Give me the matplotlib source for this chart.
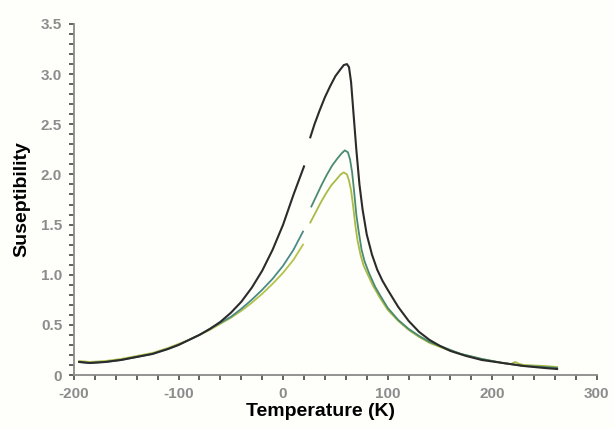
"""Susceptibility vs temperature curves (three samples)."""

import matplotlib

matplotlib.use("Agg")
import matplotlib.pyplot as plt
from matplotlib.ticker import MultipleLocator

plt.rcParams["font.family"] = ["Liberation Sans", "DejaVu Sans"]
plt.rcParams["axes.unicode_minus"] = False

# black sample: measured in two pieces (gap near 20-26 K)
black_lo_t = [-195, -185, -170, -155, -140, -125, -110, -100, -90, -80, -70, -60, -50,
              -40, -30, -20, -10, 0, 10, 20]
black_lo_chi = [0.13, 0.12, 0.13, 0.15, 0.18, 0.21, 0.26, 0.30, 0.35, 0.40, 0.46, 0.53, 0.62,
                0.73, 0.87, 1.04, 1.25, 1.50, 1.80, 2.08]
black_hi_t = [26, 30, 35, 40, 45, 50, 55, 58, 61, 63, 65, 67, 70, 73, 76, 80, 85, 90, 95,
              100, 110, 120, 130, 140, 150, 160, 175, 190, 210, 230, 250, 262]
black_hi_chi = [2.37, 2.50, 2.64, 2.77, 2.88, 2.98, 3.05, 3.09, 3.10, 3.07, 2.92, 2.65, 2.25,
                1.90, 1.65, 1.40, 1.20, 1.05, 0.94, 0.85, 0.68, 0.54, 0.43, 0.35, 0.29, 0.24,
                0.19, 0.15, 0.12, 0.09, 0.07, 0.06]

# teal sample
teal_lo_t = [-195, -185, -170, -155, -140, -125, -110, -100, -90, -80, -70, -60, -50,
             -40, -30, -20, -10, 0, 10, 19]
teal_lo_chi = [0.13, 0.12, 0.13, 0.15, 0.18, 0.21, 0.26, 0.30, 0.35, 0.40, 0.46, 0.52, 0.58,
               0.66, 0.75, 0.85, 0.96, 1.09, 1.25, 1.43]
teal_hi_t = [27, 32, 37, 42, 47, 52, 56, 59, 62, 64, 66, 68, 70, 72, 75, 78, 82, 88, 93,
             100, 110, 120, 130, 140, 155, 170, 190, 210, 230, 250, 262]
teal_hi_chi = [1.68, 1.79, 1.90, 2.00, 2.09, 2.16, 2.21, 2.24, 2.22, 2.15, 2.02, 1.82, 1.60,
               1.45, 1.25, 1.13, 1.02, 0.88, 0.79, 0.67, 0.55, 0.46, 0.39, 0.33, 0.27, 0.21,
               0.16, 0.12, 0.09, 0.08, 0.07]

# yellow-green sample
yellow_lo_t = [-195, -185, -170, -155, -140, -125, -110, -100, -90, -80, -70, -60, -50,
               -40, -30, -20, -10, 0, 10, 19]
yellow_lo_chi = [0.14, 0.13, 0.14, 0.16, 0.19, 0.22, 0.27, 0.31, 0.35, 0.40, 0.45, 0.51, 0.57,
                 0.64, 0.72, 0.81, 0.91, 1.02, 1.15, 1.30]
yellow_hi_t = [26, 31, 36, 41, 46, 51, 55, 58, 61, 63, 65, 67, 69, 71, 74, 77, 81, 86, 92,
               100, 110, 120, 130, 140, 155, 170, 190, 210, 218, 222, 226, 230, 250, 262]
yellow_hi_chi = [1.52, 1.62, 1.72, 1.81, 1.89, 1.95, 2.00, 2.02, 2.00, 1.94, 1.84, 1.68, 1.50,
                 1.35, 1.20, 1.09, 1.00, 0.89, 0.78, 0.65, 0.54, 0.45, 0.38, 0.32, 0.26, 0.21,
                 0.16, 0.12, 0.11, 0.13, 0.11, 0.10, 0.09, 0.08]

fig = plt.figure(figsize=(6.14, 4.28), dpi=100, facecolor="#fefefb")
ax = fig.add_axes([0.1205, 0.1238, 0.8515, 0.8202], facecolor="#fefefb")

ax.plot(yellow_lo_t, yellow_lo_chi, color="#b5c24a", lw=1.3)
ax.plot(yellow_hi_t, yellow_hi_chi, color="#a9bb45", lw=1.3)
ax.plot(teal_lo_t, teal_lo_chi, color="#4a8a86", lw=1.3)
ax.plot(teal_hi_t, teal_hi_chi, color="#4a8a70", lw=1.3)
ax.plot(black_lo_t, black_lo_chi, color="#2b2b2b", lw=1.5)
ax.plot(black_hi_t, black_hi_chi, color="#2b2b2b", lw=1.5)

ax.set_xlim(-200, 300)
ax.set_ylim(0, 3.5)
ax.xaxis.set_major_locator(MultipleLocator(100))
ax.xaxis.set_minor_locator(MultipleLocator(20))
ax.set_yticks([0, 0.5, 1.0, 1.5, 2.0, 2.5, 3.0, 3.5])
ax.set_yticklabels(["0", "0.5", "1.0", "1.5", "2.0", "2.5", "3.0", "3.5"])
ax.yaxis.set_minor_locator(MultipleLocator(0.1))

for side in ("top", "right"):
    ax.spines[side].set_visible(False)
for side in ("left", "bottom"):
    ax.spines[side].set_color("#8a8a8a")
    ax.spines[side].set_linewidth(1.3)

ax.tick_params(which="both", direction="out", length=3.5, width=1.3, color="#555555")
ax.tick_params(which="major", labelcolor="#8c8c8c", labelsize=11, pad=5)
for lab in ax.get_xticklabels() + ax.get_yticklabels():
    lab.set_fontweight("bold")

ax.set_xlabel("Temperature (K)", fontsize=14, fontweight="bold", va="center")
ax.set_ylabel("Suseptibility", fontsize=14, fontweight="bold", va="center")
ax.xaxis.set_label_coords(0.472, -0.103)
ax.yaxis.set_label_coords(-0.1, 0.5)

fig.savefig("out.png", dpi=100, facecolor=fig.get_facecolor())
